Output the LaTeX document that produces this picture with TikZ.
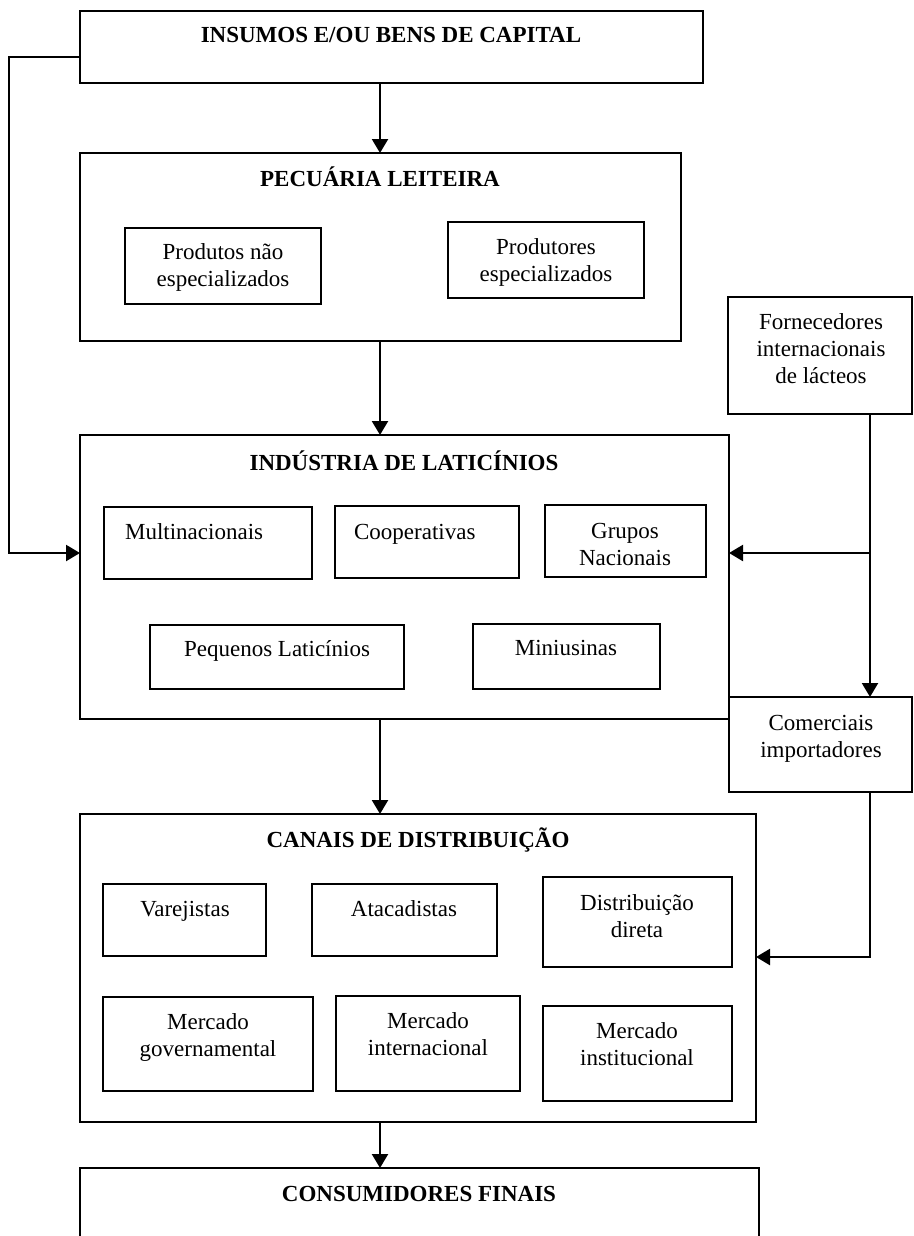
\documentclass[tikz,border=0pt]{standalone}
\usepackage{fontspec}
\setmainfont{Liberation Serif}
\usetikzlibrary{arrows.meta}

\begin{document}
\begin{tikzpicture}[x=0.5pt, y=-0.5pt, line width=1.1pt,
  box/.style={draw, rectangle, inner sep=0pt, outer sep=0pt, anchor=north west},
  txt/.style={font=\fontsize{11.5}{13.5}\selectfont, align=center, anchor=base, inner sep=0pt},
  title/.style={txt, font=\fontsize{11.5}{13.5}\selectfont\bfseries},
  arr/.style={-{Triangle[length=7pt, width=8pt]}}]
\useasboundingbox (0,0) rectangle (914,1236);

\node[box, minimum width=311.5pt, minimum height=36pt] (insumos) at (80,11) {};
\node[box, minimum width=300.5pt, minimum height=94pt] (pecuaria) at (80,153) {};
\node[box, minimum width=98pt, minimum height=38pt] (naoesp) at (125,228) {};
\node[box, minimum width=98pt, minimum height=38pt] (esp) at (448,222) {};

\node[box, minimum width=324.5pt, minimum height=142pt] (industria) at (80,435) {};
\node[box, minimum width=104pt, minimum height=36pt] (multi) at (104,507) {};
\node[box, minimum width=92pt, minimum height=36pt] (coop) at (335,506) {};
\node[box, minimum width=80.5pt, minimum height=36pt] (grupos) at (545,505) {};
\node[box, minimum width=127pt, minimum height=32pt] (pequenos) at (150,625) {};
\node[box, minimum width=93.5pt, minimum height=32.5pt] (mini) at (473,624) {};

\node[box, minimum width=92pt, minimum height=58.5pt] (fornec) at (728,297) {};
\node[box, minimum width=91.5pt, minimum height=47.5pt] (comerc) at (729,697) {};

\node[box, minimum width=338pt, minimum height=154pt] (canais) at (80,814) {};
\node[box, minimum width=81.5pt, minimum height=36pt] (varej) at (103,884) {};
\node[box, minimum width=92.5pt, minimum height=36pt] (atac) at (312,884) {};
\node[box, minimum width=94.5pt, minimum height=45pt] (direta) at (543,877) {};
\node[box, minimum width=105pt, minimum height=47pt] (mgov) at (103,997) {};
\node[box, minimum width=92pt, minimum height=47.5pt] (mint) at (336,996) {};
\node[box, minimum width=94.5pt, minimum height=47.5pt] (minst) at (543,1006) {};

\node[box, minimum width=339.5pt, minimum height=41pt] (consum) at (80,1168) {};

\node[title] (insumos-t) at (391,43) {INSUMOS E/OU BENS DE CAPITAL};
\node[title] (pecuaria-t) at (380,186) {PECUÁRIA LEITEIRA};
\node[txt] (naoesp-t) at (223,286) {Produtos não\\especializados};
\node[txt] (esp-t) at (546,281) {Produtores\\especializados};
\node[title] (industria-t) at (404,470) {INDÚSTRIA DE LATICÍNIOS};
\node[txt, anchor=base west] (multi-t) at (124,539) {Multinacionais};
\node[txt, anchor=base west] (coop-t) at (353,539) {Cooperativas};
\node[txt] (grupos-t) at (625,565) {Grupos\\Nacionais};
\node[txt] (pequenos-t) at (277,656) {Pequenos Laticínios};
\node[txt] (mini-t) at (566,655) {Miniusinas};
\node[txt] (fornec-t) at (821,383) {Fornecedores\\internacionais\\de lácteos};
\node[txt] (comerc-t) at (821,757) {Comerciais\\importadores};
\node[title] (canais-t) at (418,847) {CANAIS DE DISTRIBUIÇÃO};
\node[txt] (varej-t) at (185,916) {Varejistas};
\node[txt] (atac-t) at (404,916) {Atacadistas};
\node[txt] (direta-t) at (637,937) {Distribuição\\direta};
\node[txt] (mgov-t) at (208,1056) {Mercado\\governamental};
\node[txt] (mint-t) at (428,1055) {Mercado\\internacional};
\node[txt] (minst-t) at (637,1065) {Mercado\\institucional};
\node[title] (consum-t) at (419,1201) {CONSUMIDORES FINAIS};

\coordinate (spine) at (380,0);
\coordinate (trunk) at (870,0);
\coordinate (lft) at (9,57);
\coordinate (inlet) at (0,553);
\coordinate (outlet) at (0,957);

\path[arr]
(insumos.south -| spine) edge (pecuaria.north -| spine)
(pecuaria.south -| spine) edge (industria.north -| spine)
(industria.south -| spine) edge (canais.north -| spine)
(canais.south -| spine) edge (consum.north -| spine)
(fornec.south -| trunk) edge (comerc.north -| trunk)
(trunk |- inlet) edge (industria.east |- inlet);
\draw[arr] (insumos.west |- lft) -- (lft) |- (industria.west |- inlet);
\draw[arr] (comerc.south -| trunk) |- (canais.east |- outlet);
\end{tikzpicture}
\end{document}
